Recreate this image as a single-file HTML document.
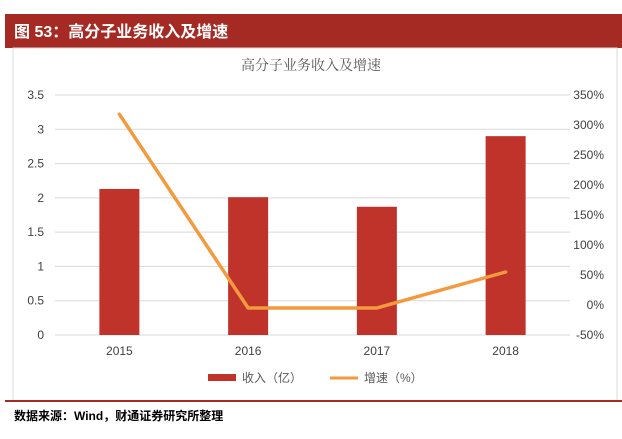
<!DOCTYPE html>
<html><head><meta charset="utf-8"><style>
body{margin:0;background:#fff;width:622px;height:434px;overflow:hidden;font-family:"Liberation Sans","Noto Sans CJK SC",sans-serif}
</style></head><body>
<svg width="622" height="434" xmlns="http://www.w3.org/2000/svg">
<rect x="5" y="14" width="617" height="34" fill="#a52a23"/>
<text x="14" y="37" font-size="16" font-weight="bold" fill="#fff" font-family="Liberation Sans,Noto Sans CJK SC,sans-serif">图 53：高分子业务收入及增速</text>
<rect x="13" y="48" width="604" height="353" fill="#fff" stroke="#d9d9d9"/>
<line x1="5" y1="401" x2="622" y2="401" stroke="#a52a23" stroke-width="2"/>
<text x="311" y="70" font-size="14" fill="#595959" text-anchor="middle" font-family="Noto Serif CJK SC,serif">高分子业务收入及增速</text>
<g id="grid"></g><g id="bars"></g><g id="line"></g><g id="axes"></g>
<rect x="208" y="374" width="28" height="7" fill="#c0332a"/>
<text x="242" y="382" font-size="12" fill="#595959">收入（亿）</text>
<line x1="330" y1="378" x2="358" y2="378" stroke="#f39a40" stroke-width="3"/>
<text x="364" y="382" font-size="12" fill="#595959">增速（%）</text>
<text x="14" y="420" font-size="12" font-weight="bold" fill="#000">数据来源：Wind，财通证券研究所整理</text>
</svg>
<script>
const categories=['2015','2016','2017','2018'];
const revenue=[2.13,2.01,1.87,2.90];
const growth=[318,-5,-5,55];
const leftTicks=['0','0.5','1','1.5','2','2.5','3','3.5'];
const rightTicks=['-50%','0%','50%','100%','150%','200%','250%','300%','350%'];
const NS='http://www.w3.org/2000/svg';
const x0=55,x1=570,yB=335,yT=95;
const yL=v=>yB-(v/3.5)*(yB-yT);
const yR=v=>yB-((v+50)/400)*(yB-yT);
const xC=i=>x0+(x1-x0)/categories.length*(i+0.5);
function mk(t,a,p){const e=document.createElementNS(NS,t);for(const k in a)e.setAttribute(k,a[k]);document.getElementById(p).appendChild(e);return e;}
leftTicks.forEach((t,i)=>{const y=yL(i*0.5);
const g=mk('line',{x1:x0,x2:x1,y1:y,y2:y,stroke:'#d9d9d9','stroke-width':1},'grid');


const tx=mk('text',{x:44,y:y+4,'font-size':12,fill:'#404040','text-anchor':'end'},'axes');tx.textContent=t;

});
rightTicks.forEach((t,i)=>{const y=yR(-50+i*50);
const tx=mk('text',{x:604,y:y+4,'font-size':12,fill:'#404040','text-anchor':'end'},'axes');tx.textContent=t;

});
categories.forEach((c,i)=>{const r=mk('rect',{x:xC(i)-20,y:yL(revenue[i]),width:40,height:yB-yL(revenue[i]),fill:'#c0332a'},'bars');


const tx=mk('text',{x:xC(i),y:355,'font-size':12,fill:'#404040','text-anchor':'middle'},'axes');tx.textContent=c;

});
const pl=mk('polyline',{points:growth.map((v,i)=>xC(i)+','+yR(v)).join(' '),fill:'none',stroke:'#f39a40','stroke-width':3.5,'stroke-linecap':'round','stroke-linejoin':'round'},'line');


</script>
</body></html>
